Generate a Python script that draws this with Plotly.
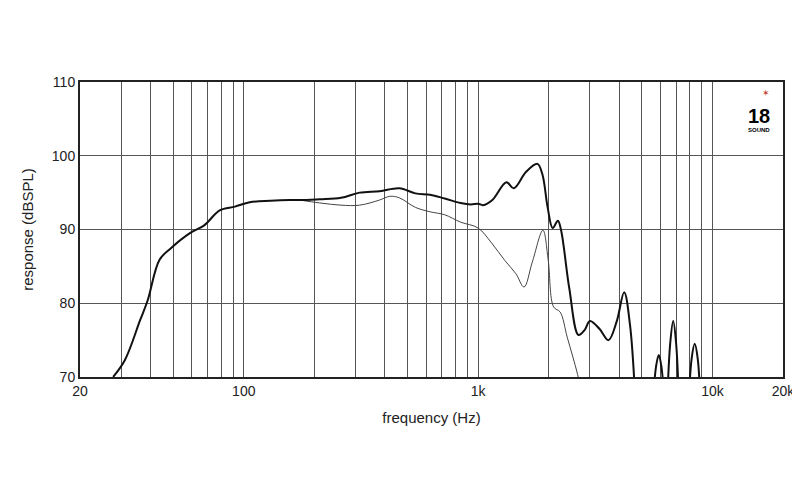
import plotly.graph_objects as go

# on-axis (thick) response
freq_main = [27.7, 31.1, 36.1, 38.9, 43.7, 49.0, 58.9, 68.0, 78.9, 91.7, 106, 130, 157, 185, 211, 260,
             312, 380, 461, 540, 624, 720, 842, 930, 1000, 1050, 1150, 1320, 1420, 1600, 1790, 1880,
             1980, 2080, 2190, 2260, 2450, 2680, 2850, 3000, 3300, 3600, 3900, 4200, 4450, 4700]
db_main = [70, 72.3, 77.7, 80.4, 85.9, 87.5, 89.5, 90.6, 92.6, 93.1, 93.7, 93.9, 94.0, 94.0, 94.1, 94.3,
           95.0, 95.2, 95.6, 94.9, 94.7, 94.2, 93.6, 93.4, 93.5, 93.3, 94.0, 96.4, 95.6, 97.8, 98.9, 97.5,
           93.0, 90.2, 91.2, 89.9, 82.0, 75.7, 76.4, 77.6, 76.5, 75.0, 77.5, 81.5, 77.0, 66]

# high-frequency lobes (thick)
freq_lobes = [5550, 5750, 5900, 6050, 6250, None, 6400, 6600, 6800, 7000, 7200, None, 7900, 8150, 8400, 8650, 8900]
db_lobes = [66, 71.5, 73.0, 71.5, 66, None, 66, 74.5, 77.6, 74.5, 66, None, 66, 72.5, 74.5, 72.5, 66]

# off-axis (thin) response
freq_off = [173, 211, 260, 312, 380, 420, 461, 540, 624, 720, 842, 1000, 1140, 1300, 1450, 1570, 1700,
            1890, 1990, 2100, 2240, 2400, 2660, 2800]
db_off = [94.0, 93.6, 93.3, 93.3, 94.0, 94.5, 94.3, 93.0, 92.4, 92.0, 91.0, 90.2, 88.2, 85.8, 84.0, 82.2, 85.5,
          89.9, 85.9, 79.5, 78.8, 75.4, 70.3, 67]

grid_vals = [20, 30, 40, 50, 60, 70, 80, 90, 100, 200, 300, 400, 500, 600, 700, 800, 900,
             1000, 2000, 3000, 4000, 5000, 6000, 7000, 8000, 9000, 10000, 20000]
tick_names = {20: '20', 100: '100', 1000: '1k', 10000: '10k', 20000: '20k'}

fig = go.Figure()
fig.add_trace(go.Scatter(x=freq_off, y=db_off, mode='lines', line=dict(color='#444', width=1, shape='spline')))
fig.add_trace(go.Scatter(x=freq_main, y=db_main, mode='lines', line=dict(color='#111', width=2, shape='spline')))
fig.add_trace(go.Scatter(x=freq_lobes, y=db_lobes, mode='lines', line=dict(color='#111', width=2, shape='spline'),
                         connectgaps=False))

fig.update_layout(
    width=800, height=500, plot_bgcolor='white', paper_bgcolor='white', showlegend=False,
    margin=dict(l=72, r=25, t=74, b=131),
    font=dict(family='Liberation Sans, Arial', size=14, color='#222'),
)
fig.update_xaxes(type='log', range=[1.30103, 4.30103], tickvals=grid_vals,
                 ticktext=[tick_names.get(v, '') for v in grid_vals],
                 showgrid=True, gridcolor='#555', gridwidth=1, ticks='',
                 showline=True, linecolor='#222', linewidth=2, mirror=True,
                 title=dict(text='frequency (Hz)', font=dict(size=15)))
fig.update_yaxes(range=[70, 110], tickvals=[70, 80, 90, 100, 110],
                 showgrid=True, gridcolor='#555', gridwidth=1, ticks='',
                 showline=True, linecolor='#222', linewidth=2, mirror=True,
                 title=dict(text='response (dBSPL)', font=dict(size=15)))

fig.add_annotation(x=0.985, y=0.93, xref='paper', yref='paper', text='<b>18</b>', showarrow=False,
                   font=dict(size=20, color='black', family='Liberation Sans Narrow, Liberation Sans'))
fig.add_annotation(x=0.985, y=0.985, xref='paper', yref='paper', text='✶', showarrow=False,
                   font=dict(size=9, color='#c0392b'))
fig.add_annotation(x=0.985, y=0.855, xref='paper', yref='paper', text='<b>SOUND</b>', showarrow=False,
                   font=dict(size=6, color='black'))

fig.write_html("out.html")
